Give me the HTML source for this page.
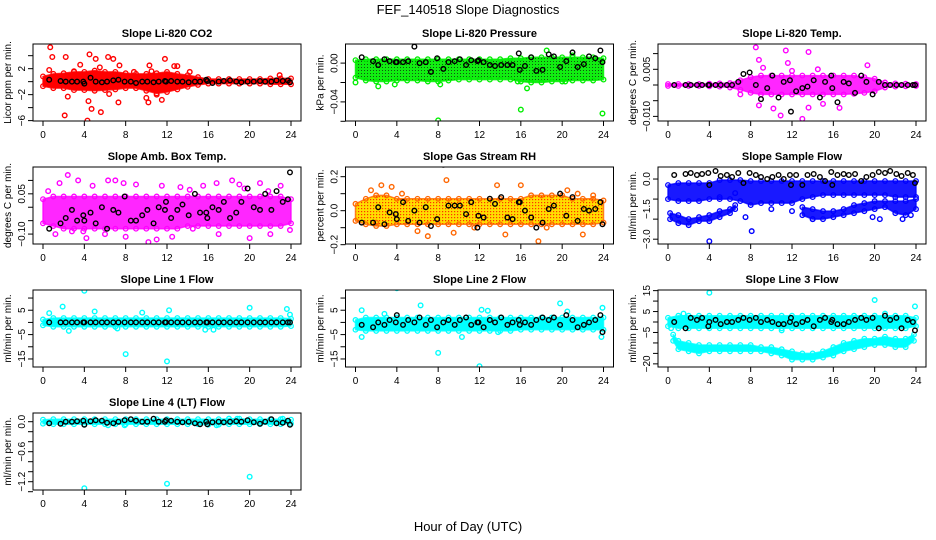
<!DOCTYPE html>
<html><head><meta charset="utf-8">
<style>
html,body{margin:0;padding:0;background:#fff;}
svg{display:block;font-family:"Liberation Sans",Arial,sans-serif;}
</style></head>
<body>
<svg id="chart" width="936" height="540" viewBox="0 0 936 540" xmlns="http://www.w3.org/2000/svg">
<defs>
<pattern id="patGreen" width="3" height="3" patternUnits="userSpaceOnUse"><rect width="3" height="3" fill="#11ee11"/><rect x="1" y="1" width="1" height="1" fill="#115511"/></pattern>
<pattern id="patRH" width="3" height="3" patternUnits="userSpaceOnUse"><rect width="3" height="3" fill="#ffdd00"/><rect x="1" y="1" width="1.2" height="1.2" fill="#ff3300"/></pattern>
</defs>
<text x="468" y="14" text-anchor="middle" font-size="13">FEF_140518  Slope Diagnostics</text>
<text x="468" y="531" text-anchor="middle" font-size="13">Hour of Day (UTC)</text>
</svg>
<script>
const hourGrid=[0,1,2,3,4,5,6,7,8,9,10,11,12,13,14,15,16,17,18,19,20,21,22,23,24];
const blackX=[0.6,1.7,2.2,2.8,3.3,3.9,4.0,4.6,5.1,5.7,6.2,6.8,7.3,7.9,8.5,9.0,9.6,10.1,10.7,11.2,11.8,11.9,12.4,13.0,13.5,14.1,14.7,15.2,15.8,15.9,16.4,17.0,17.5,18.1,18.7,19.2,19.8,20.4,21.0,21.5,22.1,22.6,23.2,23.7,23.9];
const xTicks=[0,4,8,12,16,20,24];

// CO2
const co2BandHi=[0.8,1.2,1.3,1.5,1.5,1.7,1.5,1.5,1.3,1.2,1.2,1.3,1.5,1.2,1.0,0.7,0.4,0.4,0.4,0.4,0.4,0.4,0.5,0.5,0.5];
const co2BandLo=[-0.7,-1.0,-1.0,-1.3,-1.3,-1.4,-1.3,-1.2,-1.0,-1.0,-1.4,-1.8,-1.6,-1.2,-0.8,-0.5,-0.3,-0.3,-0.3,-0.3,-0.3,-0.3,-0.4,-0.4,-0.4];
const co2OutX=[0.7,0.9,0.6,2.2,2.1,2.4,3.6,4.5,4.3,4.4,4.7,5.1,5.5,5.6,6.3,6.8,7.4,7.3,6.4,10.3,10.2,10.5,11.8,11.5,12.7,13,14.2,8.8,10,22.9,3,11];
const co2OutY=[5.3,3.8,1.8,3.8,-5.2,-2.3,2.6,4.2,-6,-3,-4.2,3.5,2.2,-4.7,3.8,3.5,2.5,-3.2,-1.9,2.5,-3.2,1.6,3.5,-2.8,2.4,2.4,1.5,1.5,-2.5,1,1.6,-2];
const co2BlackY=[0.3,0.1,0,0,0,0,-0.3,0.6,0,-0.1,0,0.2,0.3,0,0,-0.2,0,0,-0.1,0,0.1,0,0.1,0,0,-0.1,0,0,0.3,0.1,-0.2,0,0.1,0.2,0,-0.1,0,0,0.1,0,0,0.2,0.1,0.2,-0.1];

// Pressure
const presBandHi=[0.003,0.004,0.004,0.004,0.004,0.004,0.004,0.004,0.004,0.004,0.004,0.004,0.004,0.004,0.004,0.005,0.005,0.006,0.006,0.006,0.006,0.006,0.006,0.006,0.005];
const presBandLo=[-0.015,-0.018,-0.019,-0.019,-0.018,-0.018,-0.018,-0.019,-0.019,-0.018,-0.017,-0.017,-0.017,-0.017,-0.017,-0.017,-0.019,-0.02,-0.02,-0.019,-0.019,-0.018,-0.018,-0.018,-0.017];
const presOutX=[8,16,23.9,16.6,8.2,2.2,0,18.5,21,3.8,15.7,20.3];
const presOutY=[-0.059,-0.048,-0.052,-0.026,-0.022,-0.024,-0.02,0.013,0.008,-0.022,-0.019,-0.019];
const presBlackY=[0.006,0.002,-0.002,0.004,0.002,0.001,0.001,0.001,0.002,0.017,0.0,0.001,-0.009,0.005,-0.006,0.001,0.002,0.004,-0.002,0.003,0.002,0.003,0.001,-0.002,-0.003,-0.002,-0.002,-0.002,0.01,-0.007,-0.003,0.006,-0.008,-0.007,0.009,0.007,-0.004,0.002,0.011,-0.004,-0.001,0.007,0.005,0.013,0.001];

// Temp
const tempBandHi=[0.0003,0.0003,0.0003,0.0003,0.0004,0.0005,0.0006,0.0015,0.0025,0.003,0.003,0.003,0.003,0.003,0.003,0.003,0.003,0.003,0.003,0.0025,0.002,0.0008,0.0005,0.0004,0.0003];
const tempBandLo=[-0.0003,-0.0003,-0.0003,-0.0003,-0.0004,-0.0005,-0.0008,-0.0015,-0.0025,-0.003,-0.003,-0.003,-0.003,-0.003,-0.003,-0.003,-0.003,-0.003,-0.0028,-0.0025,-0.002,-0.0008,-0.0005,-0.0004,-0.0003];
const tempOutX=[8.5,8.8,11.4,13.6,19.3,8.8,10.2,10.9,13,13.6,16.6,9.2,12,15,7,11.6,14.5];
const tempOutY=[0.012,0.008,0.011,0.0105,0.0063,-0.0065,-0.0075,-0.0097,-0.0108,-0.0072,-0.0073,0.0055,0.0045,-0.006,-0.003,0.007,0.005];
const tempBlackY=[0,0,0,0,0,0,0,0,0,0,0,0.001,0.0035,0.004,0,-0.0045,-0.001,0.003,-0.004,0.001,0.0015,-0.0085,-0.002,-0.001,-0.0005,0.0015,-0.004,0.001,0.003,-0.001,-0.0055,0.001,0.0005,-0.0025,0.003,0.001,-0.003,0.001,0,0,0,0,0,0,0];

// Amb box temp
const ambBandHi=[0.03,0.04,0.04,0.04,0.04,0.04,0.04,0.04,0.04,0.04,0.04,0.04,0.04,0.04,0.04,0.04,0.04,0.04,0.04,0.04,0.04,0.04,0.04,0.04,0.03];
const ambBandLo=[-0.06,-0.07,-0.08,-0.08,-0.08,-0.08,-0.08,-0.08,-0.08,-0.08,-0.08,-0.08,-0.08,-0.08,-0.07,-0.07,-0.07,-0.07,-0.07,-0.07,-0.07,-0.07,-0.07,-0.07,-0.06];
const ambOutX=[0.5,1.6,2.4,3.4,4.2,4.8,6.3,7,7.8,9,10.2,11.5,12.5,13.3,14.2,15.5,16.8,18.3,19,20,21,22,23,23.9,1.2,2.8,3.9,6,8,14.5,17,19.5,11,21.8];
const ambOutY=[0.06,0.09,0.12,0.1,-0.115,0.08,0.1,0.1,0.09,0.085,-0.13,0.08,-0.11,0.075,0.065,0.08,0.09,0.1,0.085,-0.115,0.09,-0.1,0.08,-0.085,-0.1,-0.09,-0.09,-0.1,-0.11,-0.08,-0.1,0.07,-0.12,0.06];
const ambBlackY=[-0.08,-0.06,-0.04,-0.01,-0.05,-0.03,-0.05,-0.02,-0.06,0.0,-0.08,-0.01,-0.02,0.04,-0.05,-0.05,-0.03,-0.01,-0.06,0.0,-0.01,0.02,-0.04,-0.01,0.01,-0.03,0.05,-0.02,-0.02,-0.04,0.0,-0.01,0.02,-0.04,-0.02,0.02,0.07,0.0,-0.01,0.05,-0.01,0.06,0.02,0.03,0.13];

// RH
const rhBandHi=[0.04,0.07,0.09,0.09,0.07,0.07,0.07,0.07,0.07,0.07,0.07,0.07,0.07,0.07,0.07,0.07,0.07,0.09,0.09,0.09,0.09,0.07,0.07,0.07,0.06];
const rhBandLo=[-0.06,-0.08,-0.09,-0.09,-0.08,-0.08,-0.08,-0.08,-0.08,-0.08,-0.08,-0.08,-0.08,-0.08,-0.08,-0.08,-0.08,-0.08,-0.08,-0.08,-0.08,-0.08,-0.08,-0.08,-0.07];
const rhOutX=[1.5,2.5,3.5,4.5,6,7,8.8,9.5,11.5,13.7,14.5,16,17.7,18.5,20.5,21.5,22,23,2];
const rhOutY=[0.12,0.15,0.14,0.1,-0.12,-0.15,0.18,-0.13,-0.1,0.15,-0.14,0.15,-0.18,-0.1,0.12,0.1,-0.14,0.09,-0.07];
const rhBlackY=[-0.07,-0.07,0.02,-0.08,-0.01,-0.02,-0.05,0.05,-0.06,0.0,-0.07,0.02,-0.09,-0.05,0.27,0.03,0.03,0.03,-0.02,0.05,-0.1,-0.03,-0.04,0.07,0.04,0.08,-0.04,-0.05,0.05,0.05,0.0,-0.04,-0.1,-0.07,0.01,0.03,0.1,-0.03,0.08,-0.06,0.01,0.0,0.01,0.05,-0.08];

// Sample flow
const sampBandHi=[-0.3,-0.2,-0.2,-0.2,-0.2,-0.05,-0.05,-0.05,-0.1,-0.1,-0.1,-0.1,-0.1,-0.1,-0.1,-0.1,-0.1,-0.1,-0.1,-0.1,-0.1,-0.1,-0.1,-0.1,-0.1];
const sampBandLo=[-1.0,-1.1,-1.1,-1.1,-1.0,-1.0,-1.0,-1.1,-1.3,-1.2,-1.2,-1.2,-1.2,-1.0,-0.9,-0.8,-0.8,-0.8,-0.8,-0.8,-0.8,-0.8,-0.9,-0.9,-0.9];
const sampBX=[0.2,1,2,3,4,5,6,6.5];
const sampBHi=[-1.7,-1.8,-2.0,-1.9,-1.8,-1.6,-1.5,-1.3];
const sampBLo=[-2.0,-2.2,-2.3,-2.1,-2.1,-1.9,-1.7,-1.5];
const sampCX=[13,14,15,16,17,18,19,20,21,22,23,24];
const sampCHi=[-1.4,-1.5,-1.6,-1.6,-1.5,-1.3,-1.2,-1.1,-1.1,-1.1,-1.1,-1.0];
const sampCLo=[-1.8,-2.0,-2.0,-1.9,-1.8,-1.7,-1.6,-1.5,-1.4,-1.7,-1.8,-1.5];
const sampOutX=[4,8.1,6.5,5,20.5,22.7,14,19.8,23.5,7.5,10,12];
const sampOutY=[-3.1,-2.6,-0.7,-0.9,-2.0,-2.0,-2.0,-1.9,-1.8,-1.9,-1.5,-1.6];
const sampBlackY=[0.2,0.25,0.3,0.2,0.25,0.3,-0.3,0.4,0.15,0.2,0.1,0.3,-0.2,0.3,0.2,0.1,0.0,0.1,0.2,0.0,0.2,-0.3,0.2,-0.3,0.2,0.25,0.1,-0.1,0.35,-0.3,0.2,0.25,0.2,0.25,-0.1,0.1,0.2,0.35,0.3,0.4,0.25,0.15,0.3,0.2,-0.2];

// Line 1
const l1BandHi=[1.2,1.8,1.8,1.8,1.8,1.8,1.8,1.8,1.8,1.8,1.8,1.8,1.8,1.8,1.8,1.8,1.8,1.8,1.8,1.8,1.8,1.8,1.8,1.8,1.5];
const l1BandLo=[-1.2,-1.8,-1.8,-1.8,-1.8,-1.8,-1.8,-1.8,-1.8,-1.8,-1.8,-1.8,-1.8,-1.8,-1.8,-1.8,-1.8,-1.8,-1.8,-1.8,-1.8,-1.8,-1.8,-1.8,-1.5];
const l1OutX=[4.0,1.9,8,12,20,23.6,23.9,0.6,2.5,7.2,12.2,15.7,5,9.6,16.5];
const l1OutY=[13,6.5,-13,-16,6,5.5,3.2,3.8,-3.5,-2.5,5,-3,4.5,4,-3];
const l1BlackY=[0,0,0,0,0,0,0,0,0,0,0,0,0,0,0,0,0,0,0,0,0,0,0,0,0,0,0,0,0,0,0,0,0,0,0,0,0,0,0,0,0,0,0,0,0];

// Line 2
const l2BandHi=[1,2,2,2,2,2,2,2,2,2,2,2,2,2,2,2,2,2,2,2,2,2,2,2,2];
const l2BandLo=[-3,-3.5,-3.5,-3.5,-3.5,-3.5,-3.5,-3.5,-3.5,-3.5,-3.5,-3.5,-3.5,-3.5,-3.5,-3.5,-3,-3,-3,-3,-3,-3,-3,-3,-3];
const l2OutX=[4,8,12,19.8,0.6,0.6,6.3,12.2,12.8,23.9,23.8,2.8,10.3,13.8,20.5];
const l2OutY=[14,-12.5,-18,7.8,5,-6,7,5.2,4.8,6,-6,3.5,-6,-4,4.5];
const l2BlackY=[-1,-2,0,-1,1,0,3,-1,1,0,2,-1,1,-2,0,1,-1,1,2,-1,0,0,-2,1,0,2,-1,0,1,-1,0,-1,1,2,1,2,-1,3,1,-2,-1,0,1,3,-4];

// Line 3
const l3BandHi=[2,3,3,3,3,3,3,3,3,3,3,3,3,3,3,3,3,3,3,3,3,3,3,3,2];
const l3BandLo=[-2,-3,-3,-3,-3,-3,-3,-3,-3,-3,-3,-3,-3,-3,-3,-3,-3,-3,-3,-3,-3,-3,-3,-3,-2];
const l3LowX=[0.5,1,2,3,4,5,6,7,8,9,10,11,12,13,14,15,16,17,18,19,20,21,22,23,23.8];
const l3LowHi=[-6,-9,-10,-11,-11,-11,-11,-11,-11,-12,-12,-13,-14,-15,-15,-14,-12,-10,-9,-8,-8,-7,-8,-8,-6];
const l3LowLo=[-9,-13,-14,-15,-14,-14,-14,-14,-14,-14,-15,-16,-18,-18,-18,-17,-16,-14,-13,-12,-11,-11,-12,-12,-9];
const l3OutX=[4,20,23.9,0.3,23.5,1.5,11,21];
const l3OutY=[14,10.5,7.5,-3,-8,4,-4,4];
const l3BlackY=[0,-3,2,1,2,-2,0,1,-1,0,0,1,2,1,2,0,1,0,-1,-1,0,2,-1,0,1,-2,1,2,0,1,-1,-1,0,1,2,1,2,-3,3,1,2,-3,1,0,-4];

// Line 4
const l4BandHi=[0.04,0.05,0.05,0.05,0.05,0.05,0.05,0.05,0.05,0.05,0.05,0.05,0.05,0.05,0.05,0.05,0.05,0.05,0.06,0.06,0.05,0.05,0.05,0.05,0.04];
const l4BandLo=[-0.04,-0.05,-0.05,-0.05,-0.05,-0.05,-0.05,-0.05,-0.05,-0.05,-0.05,-0.05,-0.05,-0.05,-0.05,-0.05,-0.06,-0.06,-0.05,-0.05,-0.05,-0.05,-0.05,-0.05,-0.04];
const l4OutX=[4,12,20,6.3,7.9,16.8,18,18.8,23.2];
const l4OutY=[-1.33,-1.24,-1.1,-0.07,-0.07,-0.07,0.06,0.06,0.06];
const l4BlackY=[-0.03,-0.04,0.0,0.0,0.01,0.02,-0.06,0.01,0.03,0.02,-0.02,-0.03,0.0,0.03,0.05,0.02,0.0,0.0,0.06,0.0,0.0,0.03,0.02,0.0,-0.01,0.0,-0.03,-0.05,0.0,-0.05,-0.01,0.0,-0.01,0.0,0.01,0.0,0.03,-0.01,-0.04,0.0,0.05,-0.03,-0.02,0.02,-0.06];

const NS='http://www.w3.org/2000/svg';
const svg=document.getElementById('chart');
function mk(tag,attrs,parent){const e=document.createElementNS(NS,tag);for(const k in attrs)e.setAttribute(k,attrs[k]);(parent||svg).appendChild(e);return e;}

function panel(p){
  const x0=33+p.col*312.5, y0=44+p.row*123, w=268, h=77;
  const g=mk('g',{});
  
  
  const xs=v=>x0+10+v*(248/24);
  const ys=v=>y0+(p.ymax-v)/(p.ymax-p.ymin)*h;
  const clip=mk('clipPath',{id:'c'+p.name},g);
  mk('rect',{x:x0,y:y0,width:w,height:h},clip);
  const plot=mk('g',{'clip-path':'url(#c'+p.name+')'},g);
  
  
  p.bands.forEach(b=>{
    let pts=b.x.map((x,i)=>xs(x)+','+ys(b.hi[i]));
    pts=pts.concat(b.x.slice().reverse().map((x,i)=>xs(x)+','+ys(b.lo[b.x.length-1-i])));
    const poly=mk('polygon',{points:pts.join(' '),fill:p.fill,'fill-opacity':p.op||1,stroke:p.color,'stroke-width':1.5,'stroke-linejoin':'round','stroke-opacity':0.8},plot);
    
    
    b.x.forEach((x,i)=>{
      [b.hi[i],b.lo[i]].forEach(v=>{
        const c=mk('circle',{cx:xs(x),cy:ys(v),r:2.3,fill:'none',stroke:p.color,'stroke-width':1.3},plot);
        
        
      });
    });
  });
  p.outX.forEach((x,i)=>{
    const c=mk('circle',{cx:xs(x),cy:ys(p.outY[i]),r:2.3,fill:'none',stroke:p.color,'stroke-width':1.4},plot);
    
    
  });
  blackX.forEach((x,i)=>{
    const c=mk('circle',{cx:xs(x),cy:ys(p.black[i]),r:2.3,fill:'none',stroke:'#000','stroke-width':1.4},plot);
    
    
  });
  const box=mk('rect',{x:x0,y:y0,width:w,height:h,fill:'none',stroke:'#000','stroke-width':1},g);
  
  
  const t=mk('text',{x:x0+w/2,y:y0-7,'text-anchor':'middle','font-size':11,'font-weight':'bold'},g);
  t.textContent=p.title;
  
  
  xTicks.forEach(v=>{
    mk('line',{x1:xs(v),x2:xs(v),y1:y0+h,y2:y0+h+5,stroke:'#000'},g);
    const tl=mk('text',{x:xs(v),y:y0+h+17,'text-anchor':'middle','font-size':10},g);
    tl.textContent=v;
    
    
  });
  p.yTicks.forEach(v=>{
    mk('line',{x1:x0,x2:x0-5,y1:ys(v),y2:ys(v),stroke:'#000'},g);
  });
  p.yLabels.forEach((v,i)=>{
    const tl=mk('text',{x:0,y:0,'text-anchor':'middle','font-size':10,transform:`translate(${x0-8},${ys(v)}) rotate(-90)`},g);
    tl.textContent=p.yLabelText[i];
    
    
  });
  const yt=mk('text',{x:0,y:0,'text-anchor':'middle','font-size':10,transform:`translate(${x0-22},${y0+h/2}) rotate(-90)`},g);
  yt.textContent=p.ytitle;
  
  
}

panel({name:'co2',col:0,row:0,title:'Slope Li-820 CO2',ytitle:'Licor ppm per min.',color:'#ff0000',fill:'#ff0000',ymin:-6.06,ymax:5.8,yTicks:[-6,-4,-2,0,2,4],yLabels:[-6,-2,2],yLabelText:['\u22126','\u22122','2'],bands:[{x:hourGrid,hi:co2BandHi,lo:co2BandLo}],outX:co2OutX,outY:co2OutY,black:co2BlackY});
panel({name:'pressure',col:1,row:0,title:'Slope Li-820 Pressure',ytitle:'kPa per min.',color:'#00ee00',fill:'url(#patGreen)',ymin:-0.0597,ymax:0.0197,yTicks:[-0.06,-0.04,-0.02,0],yLabels:[-0.04,0],yLabelText:['\u22120.04','0.00'],bands:[{x:hourGrid,hi:presBandHi,lo:presBandLo}],outX:presOutX,outY:presOutY,black:presBlackY});
panel({name:'temp',col:2,row:0,title:'Slope Li-820 Temp.',ytitle:'degrees C per min.',color:'#ff00ff',fill:'#ff00ff',op:0.85,ymin:-0.01147,ymax:0.01306,yTicks:[-0.01,-0.005,0,0.005,0.01],yLabels:[-0.01,0.005],yLabelText:['\u22120.010','0.005'],bands:[{x:hourGrid,hi:tempBandHi,lo:tempBandLo}],outX:tempOutX,outY:tempOutY,black:tempBlackY});
panel({name:'amb-temp',col:0,row:1,title:'Slope Amb. Box Temp.',ytitle:'degrees C per min.',color:'#ff00ff',fill:'#ff00ff',op:0.85,ymin:-0.137,ymax:0.15,yTicks:[-0.1,-0.05,0,0.05,0.1],yLabels:[-0.1,0.05],yLabelText:['\u22120.10','0.05'],bands:[{x:hourGrid,hi:ambBandHi,lo:ambBandLo}],outX:ambOutX,outY:ambOutY,black:ambBlackY});
panel({name:'rh',col:1,row:1,title:'Slope Gas Stream RH',ytitle:'percent per min.',color:'#ff6600',fill:'url(#patRH)',ymin:-0.196,ymax:0.257,yTicks:[-0.2,-0.1,0,0.1,0.2],yLabels:[-0.2,0,0.2],yLabelText:['\u22120.2','0.0','0.2'],bands:[{x:hourGrid,hi:rhBandHi,lo:rhBandLo}],outX:rhOutX,outY:rhOutY,black:rhBlackY});
panel({name:'sample-flow',col:2,row:1,title:'Slope Sample Flow',ytitle:'ml/min per min.',color:'#0000ff',fill:'#0000ff',op:0.9,ymin:-3.24,ymax:0.6,yTicks:[-3,-2,-1,0],yLabels:[-3,-1.5,0],yLabelText:['\u22123.0','\u22121.5','0.0'],bands:[{x:hourGrid,hi:sampBandHi,lo:sampBandLo},{x:sampBX,hi:sampBHi,lo:sampBLo},{x:sampCX,hi:sampCHi,lo:sampCLo}],outX:sampOutX,outY:sampOutY,black:sampBlackY});
panel({name:'line1-flow',col:0,row:2,title:'Slope Line 1 Flow',ytitle:'ml/min per min.',color:'#00ffff',fill:'#00ffff',ymin:-18.3,ymax:13.3,yTicks:[-15,-10,-5,0,5,10],yLabels:[-15,-5,5],yLabelText:['\u221215','\u22125','5'],bands:[{x:hourGrid,hi:l1BandHi,lo:l1BandLo}],outX:l1OutX,outY:l1OutY,black:l1BlackY});
panel({name:'line2-flow',col:1,row:2,title:'Slope Line 2 Flow',ytitle:'ml/min per min.',color:'#00ffff',fill:'#00ffff',ymin:-18.3,ymax:13.3,yTicks:[-15,-10,-5,0,5,10],yLabels:[-15,-5,5],yLabelText:['\u221215','\u22125','5'],bands:[{x:hourGrid,hi:l2BandHi,lo:l2BandLo}],outX:l2OutX,outY:l2OutY,black:l2BlackY});
panel({name:'line3-flow',col:2,row:2,title:'Slope Line 3 Flow',ytitle:'ml/min per min.',color:'#00ffff',fill:'#00ffff',ymin:-21.5,ymax:15.3,yTicks:[-20,-15,-10,-5,0,5,10,15],yLabels:[-20,-5,5,15],yLabelText:['\u221220','\u22125','5','15'],bands:[{x:hourGrid,hi:l3BandHi,lo:l3BandLo},{x:l3LowX,hi:l3LowHi,lo:l3LowLo}],outX:l3OutX,outY:l3OutY,black:l3BlackY});
panel({name:'line4-flow',col:0,row:3,title:'Slope Line 4 (LT) Flow',ytitle:'ml/min per min.',color:'#00ffff',fill:'#00ffff',ymin:-1.366,ymax:0.174,yTicks:[-1.4,-1.2,-1,-0.8,-0.6,-0.4,-0.2,0],yLabels:[-1.2,-0.6,0],yLabelText:['\u22121.2','\u22120.6','0.0'],bands:[{x:hourGrid,hi:l4BandHi,lo:l4BandLo}],outX:l4OutX,outY:l4OutY,black:l4BlackY});
</script>
</body></html>
